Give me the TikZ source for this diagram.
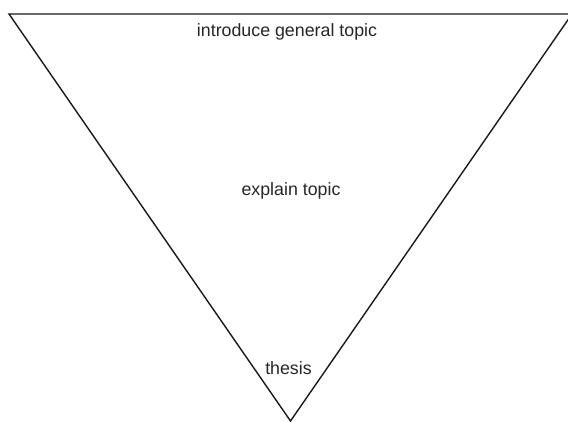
\documentclass[tikz,border=0pt]{standalone}
\usepackage{fontspec}
\setmainfont{Liberation Sans}
\begin{document}
\begin{tikzpicture}[x=1pt,y=-1pt,
  lbl/.style={inner sep=0pt,font=\fontsize{17.8}{20}\selectfont,text=black!85}]
\useasboundingbox (0,0) rectangle (568,422);
\clip (0,0) rectangle (568,422);
\coordinate (tl) at (9,14);
\coordinate (tr) at (572,14);
\coordinate (ap) at (290.5,421);
\draw[line width=1.4pt,line join=miter,draw=black!90] (tl) -- (tr) -- (ap) -- cycle;
\node[lbl,anchor=base] (intro) at (287,37) {introduce general topic};
\node[lbl,anchor=base] (expl) at (291,196) {explain topic};
\node[lbl,anchor=base] (thesis) at (288.5,374) {thesis};
\end{tikzpicture}
\end{document}
